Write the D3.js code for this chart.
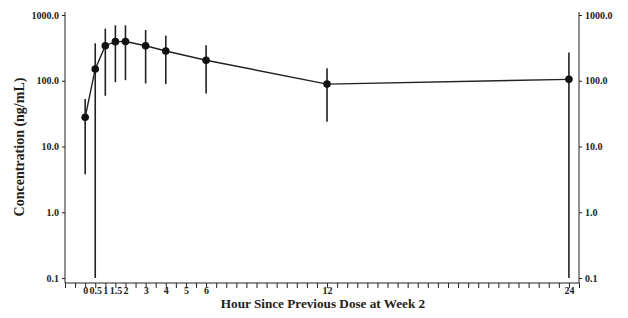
<!DOCTYPE html>
<html>
<head>
<meta charset="utf-8">
<script src="https://cdn.jsdelivr.net/npm/d3@7"></script>
<style>
  body { margin: 0; background: #fff; }
  text { font-family: "Liberation Serif", "Times New Roman", serif; font-weight: bold; fill: #222; }
</style>
</head>
<body>
<script>
"use strict";
// nominal hours and concentration summary (ng/mL)
const hours = [0, 0.5, 1, 1.5, 2, 3, 4, 6, 12, 24];
const conc  = [27.8, 151, 341, 393, 396, 341, 283, 205, 89, 105];
const upper = [53, 371, 619, 697, 697, 591, 485, 346, 155, 270];
const lower = [3.8, 0.1, 59, 95, 102, 91, 89, 64, 23.8, 0.1];
const xLabels = [0, 0.5, 1, 1.5, 2, 3, 4, 5, 6, 12, 24];
const yTicks = [0.1, 1, 10, 100, 1000];

(function() {
    const size = { width: 628, height: 318 };
    const left = 65, right = 579, top = 15, bottom = 278, axisY = 283;

    const svg = d3.select("body").append("svg")
        .attr("width", size.width)
        .attr("height", size.height);

    const x = d3.scaleLinear().domain([-1, 24.5]).range([left, right]);
    const y = d3.scaleLog().domain([0.1, 1000]).range([bottom, top]);

    const fmt = d3.format(".1f");

    // x axis: ticks every half hour, labels only at nominal times
    const xTicks = d3.range(-1, 24.51, 0.5);
    const xAxis = d3.axisBottom(x)
        .tickValues(xTicks)
        .tickSize(5)
        .tickFormat(d => xLabels.includes(d) ? d : "");
    const gx = svg.append("g")
        .attr("transform", `translate(0,${axisY})`)
        .call(xAxis);
    gx.select(".domain").remove();
    gx.selectAll("line").attr("stroke", "#222");
    gx.selectAll("text").attr("font-size", 10).attr("dy", "0.3em");

    svg.append("line")
        .attr("x1", left).attr("x2", right)
        .attr("y1", axisY).attr("y2", axisY)
        .attr("stroke", "#222");

    // left and right log axes
    const gl = svg.append("g")
        .attr("transform", `translate(${left},0)`)
        .call(d3.axisLeft(y).tickValues(yTicks).tickSize(3).tickFormat(fmt));
    const gr = svg.append("g")
        .attr("transform", `translate(${right},0)`)
        .call(d3.axisRight(y).tickValues(yTicks).tickSize(3).tickFormat(fmt));
    [gl, gr].forEach(g => {
        g.select(".domain").remove();
        g.selectAll("line").attr("stroke", "#222");
        g.selectAll("text").attr("font-size", 10);
    });
    [left, right].forEach(xx => {
        svg.append("line")
            .attr("x1", xx).attr("x2", xx)
            .attr("y1", 12).attr("y2", axisY)
            .attr("stroke", "#222");
    });

    // error bars
    svg.append("g").selectAll("line")
        .data(hours)
        .enter()
        .append("line")
            .attr("x1", d => x(d))
            .attr("x2", d => x(d))
            .attr("y1", (d, i) => y(upper[i]))
            .attr("y2", (d, i) => y(lower[i]))
            .attr("stroke", "#222")
            .attr("stroke-width", 1.6);

    // mean line
    const line = d3.line()
        .x(d => x(d))
        .y((d, i) => y(conc[i]));
    svg.append("path")
        .datum(hours)
        .attr("d", line)
        .attr("fill", "none")
        .attr("stroke", "#222")
        .attr("stroke-width", 1.4);

    svg.append("g").selectAll("circle")
        .data(hours)
        .enter()
        .append("circle")
            .attr("cx", d => x(d))
            .attr("cy", (d, i) => y(conc[i]))
            .attr("r", 3.8)
            .attr("fill", "#111");

    // axis titles
    svg.append("text")
        .attr("x", 323)
        .attr("y", 308)
        .attr("text-anchor", "middle")
        .attr("font-size", 13.2)
        .text("Hour Since Previous Dose at Week 2");

    svg.append("text")
        .attr("transform", "translate(24,147) rotate(-90)")
        .attr("text-anchor", "middle")
        .attr("font-size", 14)
        .text("Concentration (ng/mL)");
})();
</script>
</body>
</html>
